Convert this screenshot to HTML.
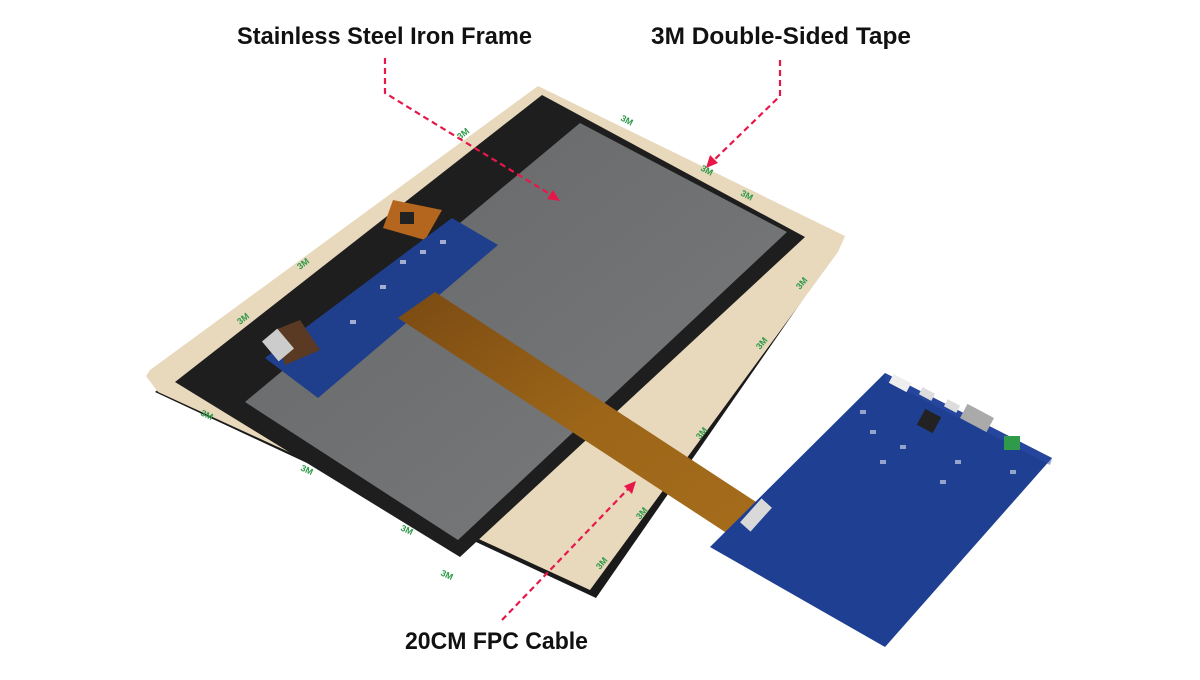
<!DOCTYPE html>
<html><head><meta charset="utf-8"><style>
html,body{margin:0;padding:0;background:#fff}
svg{display:block}
</style></head><body>
<svg width="1200" height="680" viewBox="0 0 1200 680" xmlns="http://www.w3.org/2000/svg">
<defs>
<linearGradient id="gr" x1="0" y1="0" x2="1" y2="1">
<stop offset="0" stop-color="#646668"/><stop offset="1" stop-color="#7a7c7e"/></linearGradient>
<linearGradient id="fpc" x1="0" y1="0" x2="1" y2="1">
<stop offset="0" stop-color="#7a4a12"/><stop offset="0.5" stop-color="#9c6518"/><stop offset="1" stop-color="#a66d1c"/></linearGradient>
</defs>
<!-- metal rim under tape -->
<polygon points="540,90 842,243 596,598 155,392" fill="#1a1a1a"/>
<!-- tape -->
<polygon points="538,86 845,236 838,252 590,590 158,392 146,376 150,370" fill="#e8d8bc"/>
<!-- black frame -->
<polygon points="542,95 805,237 460,557 175,382" fill="#1e1e1f"/>
<!-- gray screen -->
<polygon points="580,123 787,232 458,540 245,402" fill="url(#gr)"/>
<!-- green 3M marks -->
<g fill="#2f9a4a" font-family="Liberation Sans, sans-serif" font-size="9" font-weight="bold">
<text x="240" y="325" transform="rotate(-38 240 325)">3M</text>
<text x="300" y="270" transform="rotate(-38 300 270)">3M</text>
<text x="460" y="140" transform="rotate(-38 460 140)">3M</text>
<text x="620" y="120" transform="rotate(28 620 120)">3M</text>
<text x="700" y="170" transform="rotate(28 700 170)">3M</text>
<text x="740" y="195" transform="rotate(28 740 195)">3M</text>
<text x="800" y="290" transform="rotate(-50 800 290)">3M</text>
<text x="760" y="350" transform="rotate(-50 760 350)">3M</text>
<text x="700" y="440" transform="rotate(-50 700 440)">3M</text>
<text x="640" y="520" transform="rotate(-50 640 520)">3M</text>
<text x="600" y="570" transform="rotate(-50 600 570)">3M</text>
<text x="200" y="415" transform="rotate(25 200 415)">3M</text>
<text x="300" y="470" transform="rotate(25 300 470)">3M</text>
<text x="400" y="530" transform="rotate(25 400 530)">3M</text>
<text x="440" y="575" transform="rotate(25 440 575)">3M</text>
</g>
<!-- orange flex -->
<polygon points="393,200 442,210 425,240 383,228" fill="#b5661e"/>
<rect x="400" y="212" width="14" height="12" fill="#222"/>
<!-- small board -->
<polygon points="452,218 498,245 318,398 265,358" fill="#1f3f8c"/>
<polygon points="275,330 300,320 320,350 285,365" fill="#5a3a22"/>
<rect x="268" y="332" width="20" height="26" fill="#ccc" transform="rotate(-40 278 345)"/>
<g fill="#dde" opacity="0.7">
<rect x="400" y="260" width="6" height="4"/><rect x="420" y="250" width="6" height="4"/><rect x="380" y="285" width="6" height="4"/><rect x="350" y="320" width="6" height="4"/><rect x="440" y="240" width="6" height="4"/>
</g>
<!-- FPC cable -->
<polygon points="398,318 435,292 776,515 748,547" fill="url(#fpc)"/>
<!-- large board -->
<polygon points="885,373 1052,458 885,647 710,547" fill="#1f3f93"/>
<polygon points="885,373 1052,458 1050,465 885,380" fill="#2b4ea6" opacity="0.5"/>
<rect x="740" y="508" width="32" height="14" fill="#d9d9d9" transform="rotate(-48 756 515)"/>
<rect x="920" y="412" width="18" height="18" fill="#222" transform="rotate(28 929 421)"/>
<rect x="962" y="410" width="30" height="16" fill="#aaa" transform="rotate(28 977 418)"/>
<rect x="1004" y="436" width="16" height="14" fill="#2e9a4a"/>
<rect x="890" y="378" width="20" height="10" fill="#eee" transform="rotate(28 900 383)"/>
<rect x="920" y="390" width="14" height="8" fill="#ddd" transform="rotate(28 927 394)"/>
<rect x="945" y="402" width="14" height="8" fill="#ddd" transform="rotate(28 952 406)"/>
<g fill="#c8cfe6" opacity="0.7">
<rect x="860" y="410" width="6" height="4"/><rect x="870" y="430" width="6" height="4"/><rect x="900" y="445" width="6" height="4"/><rect x="955" y="460" width="6" height="4"/><rect x="880" y="460" width="6" height="4"/><rect x="940" y="480" width="6" height="4"/><rect x="1010" y="470" width="6" height="4"/>
</g>
<!-- dashed arrows -->
<g stroke="#e8174a" stroke-width="2.2" fill="none" stroke-dasharray="6,4">
<polyline points="385,58 385,93 553,196"/>
<polyline points="780,60 780,96 712,162"/>
<line x1="502" y1="620" x2="630" y2="487"/>
</g>
<g fill="#e8174a">
<polygon points="560,201 547,199 553,190"/>
<polygon points="706,168 710,155 718,163"/>
<polygon points="636,481 632,494 624,486"/>
</g>
<!-- labels -->
<g font-family="Liberation Sans, sans-serif" font-weight="bold" fill="#111" font-size="24">
<text x="237" y="44" textLength="295" lengthAdjust="spacingAndGlyphs">Stainless Steel Iron Frame</text>
<text x="651" y="44" textLength="260" lengthAdjust="spacingAndGlyphs">3M Double-Sided Tape</text>
<text x="405" y="649" textLength="183" lengthAdjust="spacingAndGlyphs">20CM FPC Cable</text>
</g>
</svg>
</body></html>
